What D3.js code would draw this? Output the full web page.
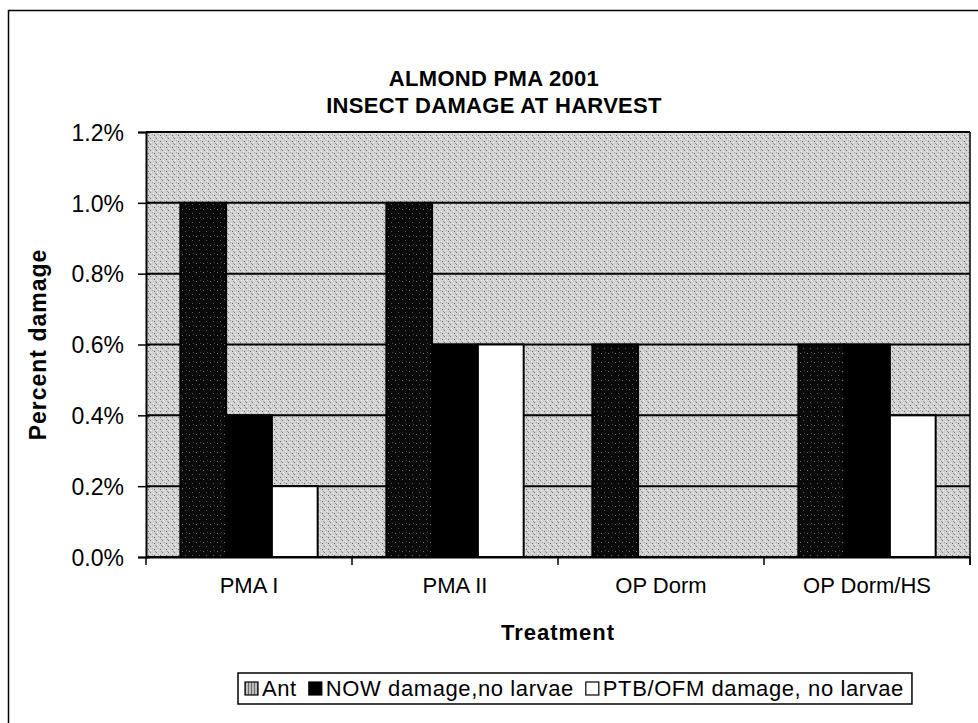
<!DOCTYPE html>
<html>
<head>
<meta charset="utf-8">
<script src="https://cdn.jsdelivr.net/npm/d3@7"></script>
<style>
  body { margin: 0; background: #fff; }
  svg text { font-family: "Liberation Sans", Arial, sans-serif; fill: #000; }
</style>
</head>
<body>
<div id="chart"></div>
<script>
// Data
const treatments = ['PMA I', 'PMA II', 'OP Dorm', 'OP Dorm/HS'];
const seriesNames = ['Ant', 'NOW damage,no larvae', 'PTB/OFM damage, no larvae'];
const ant = [0.010, 0.010, 0.006, 0.006];
const nowDamage = [0.004, 0.006, 0, 0.006];
const ptbDamage = [0.002, 0.006, 0, 0.004];
const yTicks = [0, 0.002, 0.004, 0.006, 0.008, 0.010, 0.012];
const titleLines = ['ALMOND PMA 2001', 'INSECT DAMAGE AT HARVEST'];

const seriesValues = [ant, nowDamage, ptbDamage];
const rows = treatments.map((t, i) => ({
    treatment: t,
    values: seriesNames.map((s, j) => ({ series: s, value: seriesValues[j][i] }))
}));

const width = 978, height = 723;
const plot = { left: 146, right: 970, top: 132, bottom: 557 };

const svg = d3.select('#chart')
    .append('svg')
    .attr('width', width)
    .attr('height', height);

// Patterns (stippled grey background, dark stipple for Ant)
const defs = svg.append('defs');

const bgPat = defs.append('pattern')
    .attr('id', 'bg').attr('width', 6).attr('height', 6)
    .attr('patternUnits', 'userSpaceOnUse');
bgPat.append('rect').attr('width', 6).attr('height', 6).attr('fill', '#d2d2d2');
[[0, 0, '#7a7a7a'], [3, 1, '#f4f4f4'], [4, 3, '#666'], [1, 4, '#f0f0f0'], [2, 2, '#a8a8a8'], [5, 5, '#9a9a9a']]
    .forEach(([px, py, c]) => bgPat.append('rect').attr('x', px).attr('y', py)
        .attr('width', 1).attr('height', 1).attr('fill', c));

const antPat = defs.append('pattern')
    .attr('id', 'antFill').attr('width', 7).attr('height', 9)
    .attr('patternUnits', 'userSpaceOnUse');
antPat.append('rect').attr('width', 7).attr('height', 9).attr('fill', '#0a0a0a');
[[1, 2, '#777'], [4, 6, '#5a5a5a'], [5, 1, '#444']]
    .forEach(([px, py, c]) => antPat.append('rect').attr('x', px).attr('y', py)
        .attr('width', 1).attr('height', 1).attr('fill', c));

const legPat = defs.append('pattern')
    .attr('id', 'antLegend').attr('width', 3).attr('height', 3)
    .attr('patternUnits', 'userSpaceOnUse');
legPat.append('rect').attr('width', 3).attr('height', 3).attr('fill', '#bdbdbd');
legPat.append('rect').attr('x', 1).attr('width', 1).attr('height', 3).attr('fill', '#6a6a6a');

const fills = { 'Ant': 'url(#antFill)', 'NOW damage,no larvae': '#000', 'PTB/OFM damage, no larvae': '#fff' };
const legendFills = { 'Ant': 'url(#antLegend)', 'NOW damage,no larvae': '#000', 'PTB/OFM damage, no larvae': '#fff' };

// Outer chart frame
svg.append('rect')
    .attr('x', 8.5).attr('y', 10.5)
    .attr('width', 990).attr('height', 730)
    .attr('fill', 'none').attr('stroke', '#000').attr('stroke-width', 1.5);

// Scales
const x0 = d3.scaleBand()
    .domain(treatments)
    .range([plot.left, plot.right]);

const x1 = d3.scaleBand()
    .domain(seriesNames)
    .range([x0.bandwidth() / 6, x0.bandwidth() * 5 / 6]);

const y = d3.scaleLinear()
    .domain([0, 0.012])
    .range([plot.bottom, plot.top]);

// Plot background
svg.append('rect')
    .attr('x', plot.left).attr('y', plot.top)
    .attr('width', plot.right - plot.left).attr('height', plot.bottom - plot.top)
    .attr('fill', 'url(#bg)');

// Gridlines
svg.append('g')
    .selectAll('line')
    .data(yTicks)
    .join('line')
    .attr('x1', plot.left).attr('x2', plot.right)
    .attr('y1', d => y(d)).attr('y2', d => y(d))
    .attr('stroke', '#000').attr('stroke-width', 2);

// Right border of plot
svg.append('line')
    .attr('x1', plot.right).attr('x2', plot.right)
    .attr('y1', plot.top).attr('y2', plot.bottom + 8)
    .attr('stroke', '#000').attr('stroke-width', 1.5);

// Bars
const groups = svg.append('g')
    .selectAll('g')
    .data(rows)
    .join('g')
    .attr('transform', d => `translate(${x0(d.treatment)},0)`);

groups.selectAll('rect')
    .data(d => d.values.filter(v => v.value > 0))
    .join('rect')
    .attr('x', d => x1(d.series))
    .attr('y', d => y(d.value))
    .attr('width', x1.bandwidth())
    .attr('height', d => y(0) - y(d.value))
    .attr('fill', d => fills[d.series])
    .attr('stroke', '#000')
    .attr('stroke-width', 2);

// Y axis
const yAxis = d3.axisLeft(y)
    .tickValues(yTicks)
    .tickFormat(d3.format('.1%'))
    .tickSize(8)
    .tickPadding(14);

const yg = svg.append('g')
    .attr('transform', `translate(${plot.left},0)`)
    .call(yAxis);
yg.select('.domain').attr('stroke', '#000').attr('stroke-width', 2);
yg.selectAll('.tick line').attr('stroke-width', 1.5).attr('x2', -8).attr('x1', 4);
yg.selectAll('.tick text')
    .style('font-size', '23px')
    .attr('dy', '0.36em');

// X axis (labels centred in band, ticks on band edges)
const xAxis = d3.axisBottom(x0).tickSize(0).tickPadding(20);
const xg = svg.append('g')
    .attr('transform', `translate(0,${plot.bottom})`)
    .call(xAxis);
xg.select('.domain').attr('stroke', '#000').attr('stroke-width', 2);
xg.selectAll('.tick text').style('font-size', '22px');

const edges = treatments.map(t => x0(t)).concat([x0.range()[1]]);
xg.selectAll('.edge')
    .data(edges)
    .join('line')
    .attr('class', 'edge')
    .attr('x1', d => d).attr('x2', d => d)
    .attr('y1', 0).attr('y2', 8)
    .attr('stroke', '#000').attr('stroke-width', 1.5);

// Axis titles
svg.append('text')
    .attr('x', (plot.left + plot.right) / 2)
    .attr('y', 640)
    .attr('text-anchor', 'middle')
    .style('font-size', '22px')
    .style('font-weight', 'bold')
    .style('letter-spacing', '1px')
    .text('Treatment');

svg.append('text')
    .attr('transform', `translate(46,${(plot.top + plot.bottom) / 2}) rotate(-90)`)
    .attr('text-anchor', 'middle')
    .style('font-size', '23px')
    .style('font-weight', 'bold')
    .style('letter-spacing', '1px')
    .text('Percent damage');

// Title
svg.append('g')
    .selectAll('text')
    .data(titleLines)
    .join('text')
    .attr('x', 494)
    .attr('y', (d, i) => 86 + i * 27)
    .attr('text-anchor', 'middle')
    .style('font-size', '22px')
    .style('font-weight', 'bold')
    .style('letter-spacing', '0.3px')
    .text(d => d);

// Legend
const legend = svg.append('g').attr('transform', 'translate(238,673)');
const legendBox = legend.append('rect')
    .attr('height', 31)
    .attr('fill', '#fff')
    .attr('stroke', '#000')
    .attr('stroke-width', 1.5);

let lx = 7;
seriesNames.forEach(name => {
    legend.append('rect')
        .attr('x', lx).attr('y', 9)
        .attr('width', 13).attr('height', 13)
        .attr('fill', legendFills[name])
        .attr('stroke', '#000').attr('stroke-width', 1.2);
    const t = legend.append('text')
        .attr('x', lx + 17).attr('y', 23)
        .style('font-size', '22px')
        .style('letter-spacing', '0.6px')
        .text(name);
    lx += 17 + t.node().getComputedTextLength() + 12;
});
legendBox.attr('width', lx - 4);
</script>
</body>
</html>
